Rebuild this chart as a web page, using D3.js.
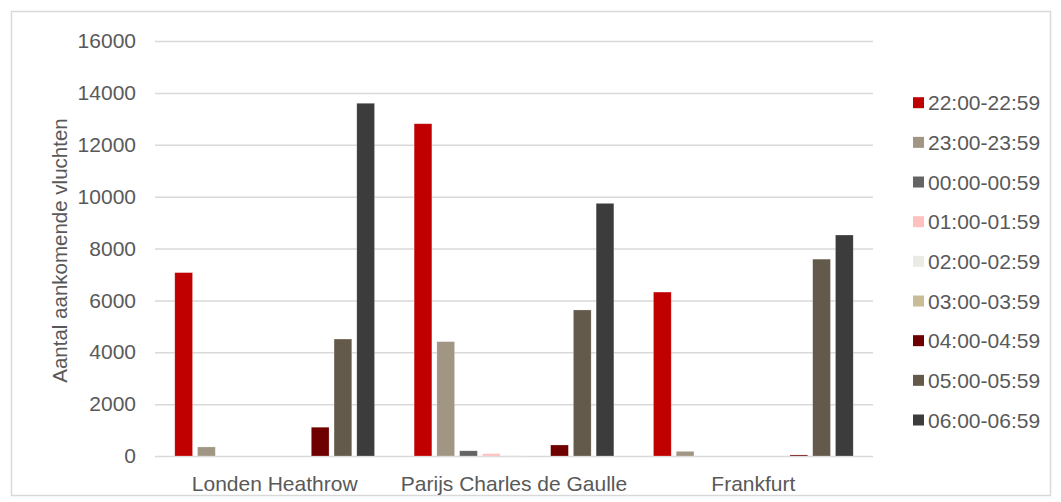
<!DOCTYPE html>
<html>
<head>
<meta charset="utf-8">
<script src="https://cdn.jsdelivr.net/npm/d3@7"></script>
<style>
  body { margin: 0; background: #fff; }
  svg { font-family: "Liberation Sans", Arial, sans-serif; }
</style>
</head>
<body>
<div id="wrapper"></div>
<script>
// data
const airports = ["Londen Heathrow", "Parijs Charles de Gaulle", "Frankfurt"]
const hours = ["22:00-22:59", "23:00-23:59", "00:00-00:59", "01:00-01:59", "02:00-02:59",
               "03:00-03:59", "04:00-04:59", "05:00-05:59", "06:00-06:59"]
const heathrow = [7070, 350, 0, 0, 0, 0, 1110, 4510, 13600]
const parijs = [12810, 4410, 200, 90, 30, 0, 425, 5630, 9740]
const frankfurt = [6320, 180, 0, 0, 0, 0, 40, 7590, 8520]
const colors = ["#c00000", "#a19684", "#646464", "#ffc0c0", "#ebebe6",
                "#c8bd96", "#6e0000", "#645a4b", "#3c3c3c"]
const yTicks = [0, 2000, 4000, 6000, 8000, 10000, 12000, 14000, 16000]

const values = [heathrow, parijs, frankfurt]

const width = 1061
const height = 502
const plot = { left: 155, right: 873, top: 41, bottom: 456 }

const svg = d3.select("#wrapper")
    .append("svg")
    .attr("width", width)
    .attr("height", height)

// outer chart border
svg.append("rect")
    .attr("x", 11.5).attr("y", 11.5)
    .attr("width", 1039).attr("height", 484)
    .attr("fill", "none")
    .attr("stroke", "#d9d9d9")
    .attr("stroke-width", 1.5)

const yScale = d3.scaleLinear()
    .domain([0, 16000])
    .range([plot.bottom, plot.top])

const xScale = d3.scaleBand()
    .domain(airports)
    .range([plot.left, plot.right])
    .padding(0)

const innerScale = d3.scaleBand()
    .domain(hours)
    .range([0, xScale.bandwidth()])
    .paddingInner(0.22)
    .paddingOuter(0.87)

// gridlines
const yAxis = d3.axisLeft(yScale)
    .tickValues(yTicks)
    .tickFormat(d3.format("d"))
    .tickSize(-(plot.right - plot.left))
    .tickPadding(19)

const yAxisG = svg.append("g")
    .attr("transform", `translate(${plot.left},0)`)
    .call(yAxis)
yAxisG.select(".domain").remove()
yAxisG.selectAll(".tick line")
    .attr("stroke", "#d9d9d9")
    .attr("stroke-width", 1.5)
yAxisG.selectAll(".tick text")
    .attr("fill", "#595959")
    .style("font-size", "21px")
    .style("font-family", "Liberation Sans, Arial, sans-serif")

// bars
const groups = svg.append("g")
    .selectAll("g")
    .data(airports)
    .join("g")
    .attr("transform", d => `translate(${xScale(d)},0)`)

groups.selectAll("rect")
    .data((d, i) => hours.map((h, j) => ({ hour: h, value: values[i][j], color: colors[j] })))
    .join("rect")
    .filter(d => d.value > 0)
    .attr("x", d => innerScale(d.hour))
    .attr("y", d => yScale(d.value))
    .attr("width", innerScale.bandwidth())
    .attr("height", d => yScale(0) - yScale(d.value))
    .attr("fill", d => d.color)
    .attr("stroke", "#ffffff")
    .attr("stroke-opacity", 0.4)
    .attr("stroke-width", 0.6)

// category labels
const xAxis = d3.axisBottom(xScale).tickSize(0).tickPadding(20)
const xAxisG = svg.append("g")
    .attr("transform", `translate(0,${plot.bottom})`)
    .call(xAxis)
xAxisG.select(".domain").remove()
xAxisG.selectAll(".tick text")
    .attr("fill", "#595959")
    .style("font-size", "21px")
    .style("font-family", "Liberation Sans, Arial, sans-serif")

// y axis title
svg.append("text")
    .attr("transform", `translate(67,${(plot.top + plot.bottom) / 2 + 2}) rotate(-90)`)
    .attr("text-anchor", "middle")
    .attr("fill", "#595959")
    .style("font-size", "20.5px")
    .text("Aantal aankomende vluchten")

// legend
const legendY = d3.scalePoint()
    .domain(hours)
    .range([102.7, 420])

const legend = svg.append("g")
    .selectAll("g")
    .data(hours)
    .join("g")
    .attr("transform", d => `translate(913,${legendY(d)})`)

legend.append("rect")
    .attr("x", 0).attr("y", -5.5)
    .attr("width", 11).attr("height", 11)
    .attr("fill", (d, i) => colors[i])

legend.append("text")
    .attr("x", 15)
    .attr("dy", "0.36em")
    .attr("fill", "#595959")
    .style("font-size", "21px")
    .text(d => d)
</script>
</body>
</html>
